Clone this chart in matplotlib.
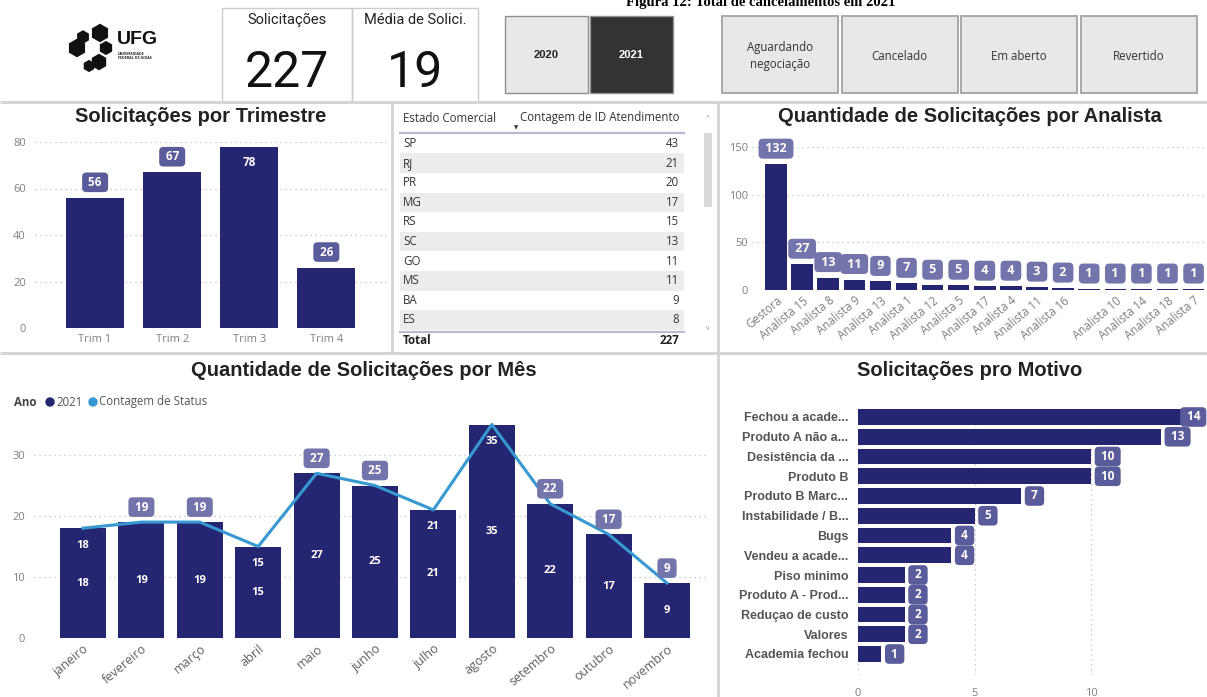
import matplotlib
matplotlib.use('Agg')
import matplotlib.pyplot as plt
from matplotlib.patches import Rectangle, RegularPolygon, Circle
import numpy as np

W, H = 1207, 697

# ---- dados ----
trimestres = ['Trim 1', 'Trim 2', 'Trim 3', 'Trim 4']
trim_valores = [56, 67, 78, 26]

estados = ['SP', 'RJ', 'PR', 'MG', 'RS', 'SC', 'GO', 'MS', 'BA', 'ES']
estado_contagem = [43, 21, 20, 17, 15, 13, 11, 11, 9, 8]
total_solicitacoes = 227
media_solicitacoes = 19

analistas = ['Gestora', 'Analista 15', 'Analista 8', 'Analista 9', 'Analista 13', 'Analista 1',
             'Analista 12', 'Analista 5', 'Analista 17', 'Analista 4', 'Analista 11', 'Analista 16',
             '', 'Analista 10', 'Analista 14', 'Analista 18', 'Analista 7']
analista_valores = [132, 27, 13, 11, 9, 7, 5, 5, 4, 4, 3, 2, 1, 1, 1, 1, 1]

meses = ['janeiro', 'fevereiro', 'março', 'abril', 'maio', 'junho', 'julho', 'agosto',
         'setembro', 'outubro', 'novembro']
mes_valores = [18, 19, 19, 15, 27, 25, 21, 35, 22, 17, 9]
status_valores = [18, 19, 19, 15, 27, 25, 21, 35, 22, 17, 9]
rotulo_acima = [False, True, True, False, True, True, False, False, True, True, True]

motivos = ['Fechou a acade...', 'Produto A não a...', 'Desistência da ...', 'Produto B',
           'Produto B Marc...', 'Instabilidade / B...', 'Bugs', 'Vendeu a acade...',
           'Piso minimo', 'Produto A - Prod...', 'Reduçao de custo', 'Valores', 'Academia fechou']
motivo_valores = [14, 13, 10, 10, 7, 5, 4, 4, 2, 2, 2, 2, 1]

anos = ['2020', '2021']
status_botoes = ['Aguardando\nnegociação', 'Cancelado', 'Em aberto', 'Revertido']

NAVY = '#252671'
BLUE = '#3798d2'
BOX = '#5a5b9b'
BOX_LIGHT = '#7374ab'
GRAY = '#7f7f7f'
SEP = '#d4d4d4'
TITLE_FONT = ['Liberation Sans', 'DejaVu Sans']
CARD_FONT = ['Roboto', 'Liberation Sans', 'DejaVu Sans']

plt.rcParams['font.family'] = ['Open Sans', 'DejaVu Sans']

fig = plt.figure(figsize=(W / 100, H / 100), dpi=100)


def px_axes(x0, y0, x1, y1):
    ax = fig.add_axes([x0 / W, 1 - y1 / H, (x1 - x0) / W, (y1 - y0) / H])
    ax.patch.set_alpha(0)
    return ax


def estilo(ax):
    for s in ax.spines.values():
        s.set_visible(False)
    ax.tick_params(length=0, colors=GRAY, labelsize=8)


def rotulo(ax, x, y, txt, dy, caixa=BOX, fs=8.5):
    bbox = None
    if caixa:
        bbox = dict(boxstyle='round,pad=0.28,rounding_size=0.35', fc=caixa, ec='none')
    ax.annotate(txt, (x, y), xytext=(0, dy), textcoords='offset pixels', ha='center',
                va='center', color='white', fontsize=fs, fontweight='bold', bbox=bbox,
                annotation_clip=False)


def titulo(x, y, txt):
    bg.text(x, y, txt, ha='center', va='center', fontsize=14.5, fontweight='bold',
            family=TITLE_FONT, color='#222222')


# ---- fundo / moldura em pixels ----
bg = fig.add_axes([0, 0, 1, 1])
bg.set_xlim(0, W)
bg.set_ylim(H, 0)
bg.axis('off')

bg.text(761, 6, 'Figura 12: Total de cancelamentos em 2021', ha='center', va='baseline',
        fontsize=10.5, fontweight='bold', family=['Liberation Serif', 'DejaVu Serif'])

for xs, ys in [([0, W], [102, 102]), ([0, W], [353, 353]), ([392, 392], [102, 353]),
               ([718, 718], [102, H])]:
    bg.plot(xs, ys, color=SEP, lw=2, solid_capstyle='butt')

# logo UFG
for cx, cy, r in [(100, 33, 8.5), (83, 37, 6), (77, 48, 8.5), (106, 48, 6.3),
                  (99, 62, 7.5), (89, 66, 5.3)]:
    bg.add_patch(RegularPolygon((cx, cy), 6, radius=r, color='#111111'))
bg.text(117, 40, 'UFG', fontsize=14, fontweight='bold', family=TITLE_FONT,
        va='center', ha='left', color='#111111')
bg.text(118, 56, 'UNIVERSIDADE\nFEDERAL DE GOIÁS', fontsize=2.6, fontweight='bold',
        va='center', ha='left', color='#222222', linespacing=1.3)

# cartoes
cartoes = [('Solicitações', total_solicitacoes, 222, 352),
           ('Média de Solici.', media_solicitacoes, 352, 478)]
for rot, val, x0, x1 in cartoes:
    bg.add_patch(Rectangle((x0, 8), x1 - x0, 94, fill=False, ec='#cccccc', lw=1))
    bg.text((x0 + x1) / 2, 20, rot, ha='center', va='center', fontsize=10.5,
            family=CARD_FONT, color='#222222')
    bg.text((x0 + x1) / 2, 73, str(val), ha='center', va='center', fontsize=36,
            family=CARD_FONT, color='#111111')

# botoes de ano
for i, ano in enumerate(anos):
    x0 = 505 + i * 85
    ativo = ano == '2021'
    bg.add_patch(Rectangle((x0, 16), 83, 77, fc='#333333' if ativo else '#e8e8e8',
                           ec='#8f8f8f', lw=1))
    bg.text(x0 + 41.5, 55, ano, ha='center', va='center', fontsize=8, fontweight='bold',
            family=TITLE_FONT, color='white' if ativo else '#222222')

# botoes de status
for i, st in enumerate(status_botoes):
    x0 = 722 + i * 119.5
    bg.add_patch(Rectangle((x0, 16), 116, 77, fc='#e8e8e8', ec='#a3a3a3', lw=1.3))
    bg.text(x0 + 58, 56, st, ha='center', va='center', fontsize=8.3, color='#333333',
            linespacing=1.35)

# tabela de estados
fs_tab = 8.3
bg.text(403, 118, 'Estado Comercial', ha='left', va='center', fontsize=fs_tab, color='#333333')
bg.text(679, 118, 'Contagem de ID Atendimento', ha='right', va='center', fontsize=fs_tab,
        color='#333333')
bg.text(516, 128, '▼', ha='center', va='center', fontsize=4, color='#333333')
bg.plot([400, 684], [133, 133], color='#b9b9d2', lw=1.6)
for i, (uf, n) in enumerate(zip(estados, estado_contagem)):
    yc = 143.5 + i * 19.6
    if i % 2 == 1:
        bg.add_patch(Rectangle((400, yc - 9.8), 284, 19.6, fc='#ececec', ec='none'))
    bg.text(403, yc, uf, ha='left', va='center', fontsize=fs_tab, color='#333333')
    bg.text(679, yc, str(n), ha='right', va='center', fontsize=fs_tab, color='#333333')
bg.plot([400, 684], [332, 332], color='#b9b9d2', lw=1.6)
bg.text(403, 341, 'Total', ha='left', va='center', fontsize=fs_tab, fontweight='bold',
        color='#222222')
bg.text(679, 341, str(total_solicitacoes), ha='right', va='center', fontsize=fs_tab,
        fontweight='bold', color='#222222')
bg.add_patch(Rectangle((704, 133), 8, 74, fc='#d9d9d9', ec='none'))
bg.text(708, 119, '^', ha='center', va='center', fontsize=5, color='#999999')
bg.text(708, 329, 'v', ha='center', va='center', fontsize=5, color='#999999')

# titulos
titulo(201, 116, 'Solicitações por Trimestre')
titulo(970, 116, 'Quantidade de Solicitações por Analista')
titulo(364, 370, 'Quantidade de Solicitações por Mês')
titulo(970, 370, 'Solicitações pro Motivo')

# legenda do grafico mensal
bg.text(14, 402, 'Ano', ha='left', va='center', fontsize=8.3, fontweight='bold', color='#444444')
bg.add_patch(Circle((50, 402), 4, color=NAVY))
bg.text(56, 402, '2021', ha='left', va='center', fontsize=8.3, color='#555555')
bg.add_patch(Circle((93, 402), 4, color=BLUE))
bg.text(99, 402, 'Contagem de Status', ha='left', va='center', fontsize=8.3, color='#555555')

# ---- Solicitacoes por Trimestre ----
ax1 = px_axes(35, 142, 388, 328)
pos = np.arange(len(trimestres))
ax1.bar(pos, trim_valores, 0.75, color=NAVY)
ax1.set_xlim(-0.78, 3.8)
ax1.set_ylim(0, 80)
ax1.set_yticks(range(0, 81, 20))
ax1.set_xticks(pos, trimestres)
ax1.grid(axis='y', ls=(0, (1, 3)), color='#bdbdbd', lw=0.9)
ax1.set_axisbelow(True)
estilo(ax1)
ax1.tick_params(axis='y', pad=6.5)
ax1.tick_params(axis='x', pad=4)
for p, v in zip(pos, trim_valores):
    if v > 0.88 * 80:
        rotulo(ax1, p, v, str(v), -16, caixa=None)
    else:
        rotulo(ax1, p, v, f' {v} ', 15.5)

# ---- Quantidade por Analista ----
ax3 = px_axes(752, 147, 1207, 290)
pos = np.arange(len(analistas))
ax3.bar(pos, analista_valores, 0.82, color=NAVY)
ax3.set_xlim((752 - 776) / 26.1, (1207 - 776) / 26.1)
ax3.set_ylim(0, 150)
ax3.set_yticks([0, 50, 100, 150])
ax3.set_xticks(pos, analistas, rotation=40, ha='right', rotation_mode='anchor')
ax3.grid(axis='y', ls=(0, (1, 3)), color='#bdbdbd', lw=0.9)
ax3.set_axisbelow(True)
estilo(ax3)
ax3.tick_params(axis='y', pad=3)
ax3.tick_params(axis='x', pad=3, labelsize=8.3)
for p, v in zip(pos, analista_valores):
    rotulo(ax3, p, v, f' {v} ', 15.5, caixa=BOX_LIGHT, fs=9)

# ---- Quantidade por Mes ----
ax4 = px_axes(34, 418, 709, 638)
pos = np.arange(len(meses))
ax4.bar(pos, mes_valores, 0.79, color=NAVY)
ax4.plot(pos, status_valores, color=BLUE, lw=2.2)
ax4.set_xlim((34 - 83) / 58.4, (709 - 83) / 58.4)
ax4.set_ylim(0, 220 / 6.1)
ax4.set_yticks([0, 10, 20, 30])
ax4.set_xticks(pos, meses, rotation=40, ha='right', rotation_mode='anchor')
ax4.grid(axis='y', ls=(0, (1, 3)), color='#bdbdbd', lw=0.9)
ax4.set_axisbelow(True)
estilo(ax4)
ax4.tick_params(axis='y', pad=6.5)
ax4.tick_params(axis='x', pad=3, labelsize=9, labelcolor='#5e5e5e')
for p, v, s, acima in zip(pos, mes_valores, status_valores, rotulo_acima):
    rotulo(ax4, p, v / 2, str(v), 0, caixa=None, fs=8)
    if acima:
        rotulo(ax4, p, s, f' {s} ', 15, caixa=BOX_LIGHT, fs=8.5)
    else:
        rotulo(ax4, p, s, str(s), -17, caixa=None, fs=8)

# ---- Solicitacoes por Motivo ----
ax5 = px_axes(858, 405, 1207, 675)
pos = np.arange(len(motivos))
ax5.barh(pos, motivo_valores, 0.8, color=NAVY)
ax5.set_xlim(0, (1207 - 858) / 23.3)
ax5.set_ylim((675 - 417) / 19.75, (405 - 417) / 19.75)
ax5.set_xticks([0, 5, 10])
ax5.set_yticks(pos, motivos, fontweight='bold', family=TITLE_FONT)
ax5.grid(axis='x', ls=(0, (1, 3)), color='#bdbdbd', lw=0.9)
ax5.set_axisbelow(True)
estilo(ax5)
ax5.tick_params(axis='y', pad=7, labelsize=9, colors='#555555')
ax5.tick_params(axis='x', pad=9)
xmax = ax5.get_xlim()[1]
for p, v in zip(pos, motivo_valores):
    bb = dict(boxstyle='round,pad=0.28,rounding_size=0.35', fc=BOX, ec='none')
    if v > xmax - 1.5:
        ax5.annotate(f' {v} ', (1, p), xycoords=('axes fraction', 'data'), xytext=(-4, 0),
                     textcoords='offset pixels', ha='right', va='center', color='white',
                     fontsize=8.5, fontweight='bold', bbox=bb, annotation_clip=False)
    else:
        ax5.annotate(f' {v} ', (v, p), xytext=(7, 0), textcoords='offset pixels', ha='left',
                     va='center', color='white', fontsize=8.5, fontweight='bold', bbox=bb,
                     annotation_clip=False)

fig.savefig('out.png', dpi=100)
